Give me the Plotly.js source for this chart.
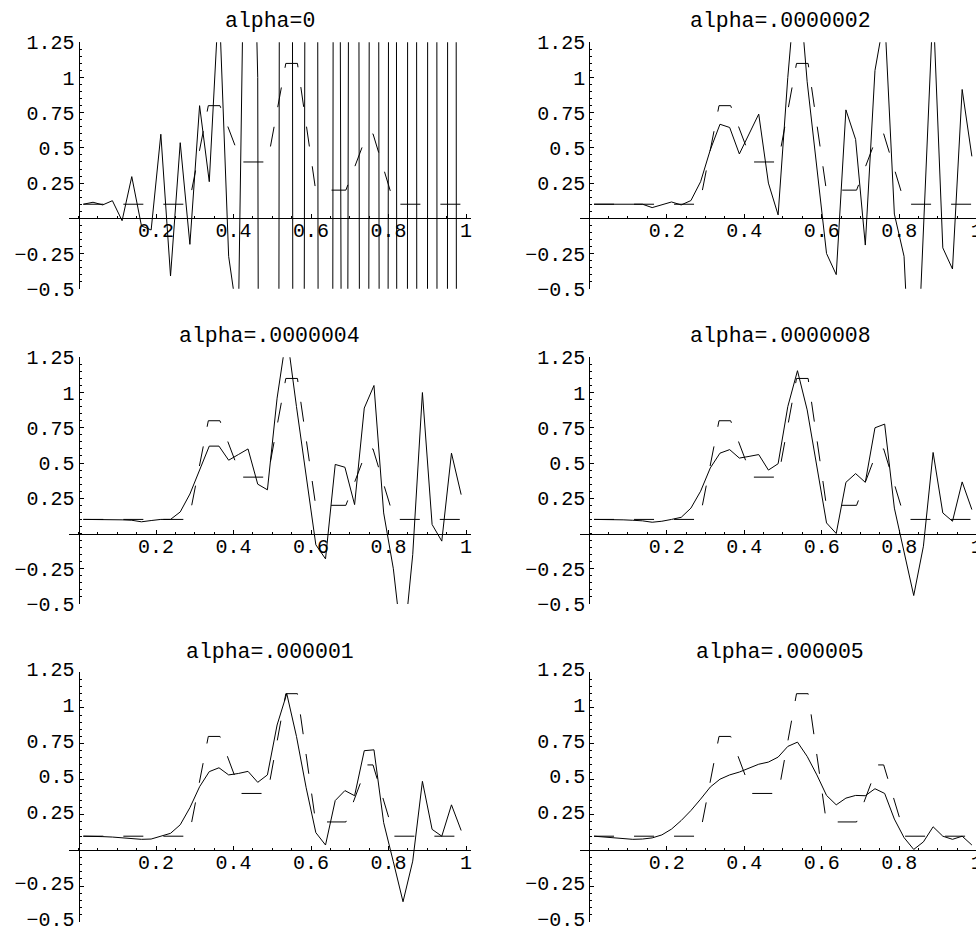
<!DOCTYPE html>
<html>
<head>
<meta charset="utf-8">
<script src="https://cdn.plot.ly/plotly-3.0.1.min.js"></script>
<style>
html,body{margin:0;padding:0;background:#fff;overflow:hidden;width:976px;height:929px;}
#chart{width:990px;height:929px;}
</style>
</head>
<body>
<div id="chart"></div>
<script>
// ---- data ----
const titles = ["alpha=0", "alpha=.0000002", "alpha=.0000004", "alpha=.0000008", "alpha=.000001", "alpha=.000005"];

const xNodes = [0.0125, 0.0375, 0.0625, 0.0875, 0.1125, 0.1375, 0.1625, 0.1875, 0.2125, 0.2375,
                0.2625, 0.2875, 0.3125, 0.3375, 0.3625, 0.3875, 0.4125, 0.4375, 0.4625, 0.4875,
                0.5125, 0.5375, 0.5625, 0.5875, 0.6125, 0.6375, 0.6625, 0.6875, 0.7125, 0.7375,
                0.7625, 0.7875, 0.8125, 0.8375, 0.8625, 0.8875, 0.9125, 0.9375, 0.9625, 0.9875];

const alpha0 = [0.10, 0.114, 0.095, 0.125, -0.017, 0.296, -0.054, -0.083, 0.597, -0.41,
                0.537, -0.185, 0.80, 0.26, 1.57, -0.27, -0.75, 4.0, 1.0, -30,
                -10, 40, -25.6, 5.6, 12, -42.5, 13.4, -9.7, 20.6, -22.3,
                24.2, -22.3, 25.1, -48.7, 57.2, -82, 72.7, -72.7, 50.5, -50.5];

const alpha2e7 = [0.10, 0.10, 0.097, 0.095, 0.097, 0.10, 0.076, 0.095, 0.116, 0.095,
                  0.126, 0.26, 0.486, 0.668, 0.645, 0.457, 0.60, 0.74, 0.25, 0.024,
                  1.0, 1.8, 0.97, 0.36, -0.25, -0.40, 0.77, 0.56, -0.19, 1.05,
                  1.44, 0.03, -0.27, -1.69, -0.12, 1.52, -0.21, -0.36, 0.915, 0.44];

const alpha4e7 = [0.10, 0.10, 0.10, 0.097, 0.097, 0.094, 0.083, 0.092, 0.10, 0.10,
                  0.153, 0.28, 0.45, 0.62, 0.62, 0.52, 0.56, 0.60, 0.35, 0.31,
                  0.96, 1.42, 0.90, 0.39, -0.08, -0.18, 0.49, 0.47, 0.205, 0.89,
                  1.05, 0.146, -0.25, -0.85, -0.15, 1.0, 0.064, -0.054, 0.57, 0.276];

const alpha8e7 = [0.10, 0.10, 0.10, 0.097, 0.094, 0.09, 0.08, 0.087, 0.10, 0.115,
                  0.18, 0.30, 0.465, 0.57, 0.595, 0.535, 0.547, 0.56, 0.45, 0.495,
                  0.90, 1.155, 0.877, 0.476, 0.075, 0.0, 0.363, 0.425, 0.363, 0.75,
                  0.776, 0.18, -0.137, -0.44, -0.09, 0.575, 0.146, 0.087, 0.366, 0.17];

const alpha1e6 = [0.10, 0.10, 0.097, 0.094, 0.09, 0.085, 0.078, 0.08, 0.10, 0.12,
                  0.18, 0.30, 0.447, 0.553, 0.58, 0.53, 0.54, 0.555, 0.478, 0.53,
                  0.88, 1.10, 0.80, 0.44, 0.125, 0.038, 0.35, 0.42, 0.384, 0.70,
                  0.706, 0.195, -0.08, -0.36, -0.075, 0.485, 0.148, 0.10, 0.32, 0.14];

const alpha5e6 = [0.10, 0.095, 0.088, 0.08, 0.078, 0.08, 0.088, 0.109, 0.15, 0.21,
                  0.28, 0.36, 0.445, 0.50, 0.53, 0.55, 0.58, 0.605, 0.62, 0.655,
                  0.73, 0.76, 0.66, 0.53, 0.386, 0.32, 0.367, 0.386, 0.384, 0.433,
                  0.40, 0.22, 0.09, 0.007, 0.06, 0.166, 0.10, 0.078, 0.10, 0.038];

// true (piecewise linear) profile, drawn dashed
const trueX = [0.0125, 0.285, 0.335, 0.365, 0.42, 0.488, 0.535, 0.565, 0.612, 0.69, 0.745, 0.76, 0.815, 0.9875];
const trueY = [0.1, 0.1, 0.8, 0.8, 0.4, 0.4, 1.1, 1.1, 0.2, 0.2, 0.6, 0.6, 0.1, 0.1];

const xTickVals = [0.2, 0.4, 0.6, 0.8, 1];
const xTickText = ["0.2", "0.4", "0.6", "0.8", "1"];
const yTickVals = [-0.5, -0.25, 0.25, 0.5, 0.75, 1, 1.25];
const yTickText = ["\u22120.5", "\u22120.25", "0.25", "0.5", "0.75", "1", "1.25"];

const series = [alpha0, alpha2e7, alpha4e7, alpha8e7, alpha1e6, alpha5e6];

// ---- layout geometry ----
const W = 990, H = 929;
const FONT = "Liberation Mono, Courier New, monospace";
const xRange = [-0.0245, 1.0116];
const yRange = [-0.5, 1.25];
const colPx = [[69.0, 470.5], [579.7, 981.2]];
const colZeroPx = [78.5, 589.2];
const rowPx = [[42.3, 288.7], [357.3, 604.0], [672.3, 921.7]];
const titlePx = [21, 336, 652];

const data = [];
const layout = {
  width: W, height: H,
  margin: {l: 0, r: 0, t: 0, b: 0, pad: 0},
  paper_bgcolor: "white", plot_bgcolor: "white",
  showlegend: false,
  font: {family: FONT, size: 20, color: "black"},
  annotations: []
};

for (let k = 0; k < 6; k++) {
  const r = Math.floor(k / 2), c = k % 2;
  const xs = k === 0 ? "" : String(k + 1);
  const xd = [colPx[c][0] / W, colPx[c][1] / W];
  const yd = [(H - rowPx[r][1]) / H, (H - rowPx[r][0]) / H];
  const yZero = yd[0] + (yd[1] - yd[0]) * (0 - yRange[0]) / (yRange[1] - yRange[0]);
  layout["xaxis" + xs] = {
    domain: xd, range: xRange, anchor: "free", position: yZero,
    showline: true, linecolor: "black", linewidth: 1,
    showgrid: false, zeroline: false,
    ticks: "inside", ticklen: 4, tickwidth: 1, tickcolor: "black",
    tickmode: "array", tickvals: xTickVals, ticktext: xTickText,
    tickfont: {family: FONT, size: 20, color: "black"},
    ticklabelstandoff: -6, ticklabeloverflow: "allow",
    minor: {tickmode: "linear", tick0: 0, dtick: 0.05, ticks: "inside", ticklen: 2, tickcolor: "black", showgrid: false},
    fixedrange: true
  };
  layout["yaxis" + xs] = {
    domain: yd, range: yRange, anchor: "free", position: colZeroPx[c] / W,
    showline: true, linecolor: "black", linewidth: 1,
    showgrid: false, zeroline: false,
    ticks: "inside", ticklen: 4, tickwidth: 1, tickcolor: "black",
    tickmode: "array", tickvals: yTickVals, ticktext: yTickText,
    tickfont: {family: FONT, size: 20, color: "black"},
    ticklabeloverflow: "allow", ticklabelshift: (r === 2 ? -3 : 0),
    minor: {tickmode: "linear", tick0: 0, dtick: 0.05, ticks: "inside", ticklen: 2, tickcolor: "black", showgrid: false},
    fixedrange: true
  };
  data.push({
    x: trueX, y: trueY, type: "scatter", mode: "lines",
    xaxis: "x" + xs, yaxis: "y" + xs,
    line: {color: "black", width: 1, dash: "20px,20px"},
    hoverinfo: "skip"
  });
  data.push({
    x: xNodes, y: series[k], type: "scatter", mode: "lines",
    xaxis: "x" + xs, yaxis: "y" + xs,
    line: {color: "black", width: 1},
    hoverinfo: "skip"
  });
  layout.annotations.push({
    text: titles[k], xref: "x" + xs, yref: "paper",
    x: 0.493, y: (H - titlePx[r]) / H, xanchor: "center", yanchor: "middle",
    showarrow: false, font: {family: FONT, size: 21.5, color: "black"}
  });
}

Plotly.newPlot("chart", data, layout, {staticPlot: true, displayModeBar: false});
</script>
</body>
</html>
